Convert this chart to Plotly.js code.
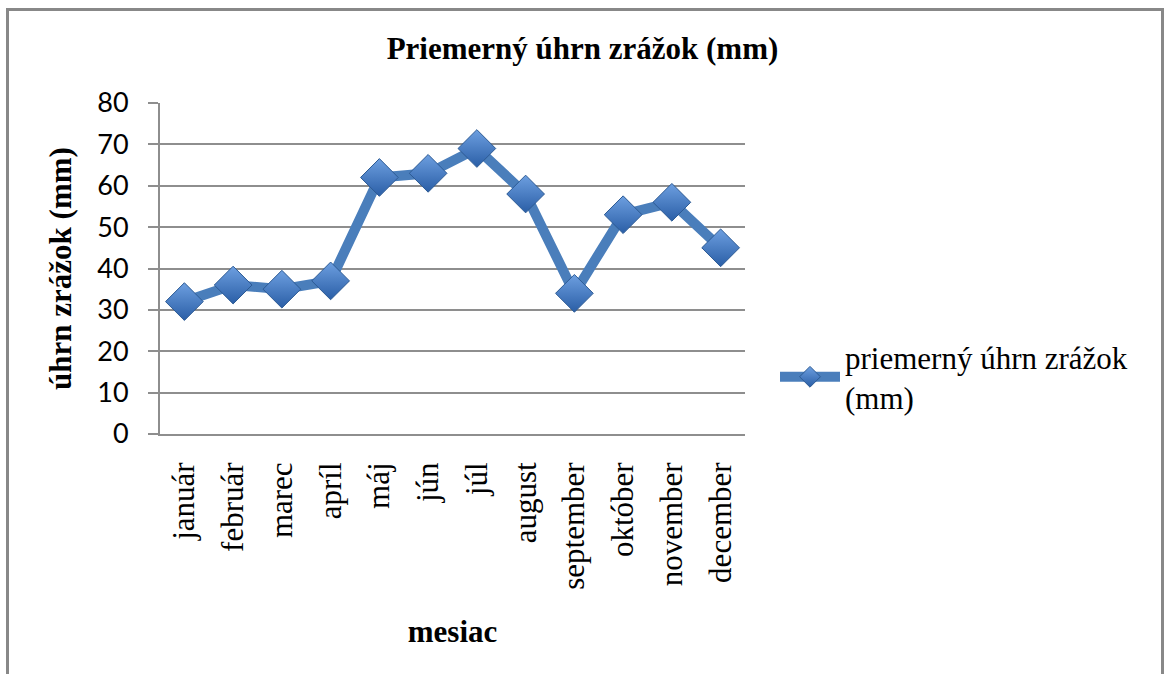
<!DOCTYPE html>
<html>
<head>
<meta charset="utf-8">
<script src="https://cdn.plot.ly/plotly-3.0.1.min.js"></script>
<style>
  html, body { margin: 0; padding: 0; background: #fff; }
  #chart { width: 1165px; height: 674px; }
  #frame {
    position: absolute; left: 6px; top: 8px; width: 1152px; height: 700px;
    border: 3px solid #888; border-bottom: none; pointer-events: none;
  }
</style>
</head>
<body>
<div id="chart"></div>
<div id="frame"></div>
<script>
// Data
const months = ['január', 'február', 'marec', 'apríl', 'máj', 'jún',
                'júl', 'august', 'september', 'október', 'november', 'december'];
const rainfall = [32, 36, 35, 37, 62, 63, 69, 58, 34, 53, 56, 45];
const yTicks = [0, 10, 20, 30, 40, 50, 60, 70, 80];

const serif = 'Liberation Serif, Times New Roman, serif';
const gridGray = '#8e8e8e';

const trace = {
    x: months,
    y: rainfall,
    type: 'scatter',
    mode: 'lines+markers',
    name: 'priemerný úhrn zrážok<br>(mm)',
    line: { color: '#4a7ebb', width: 10 },
    marker: {
        symbol: 'diamond',
        size: 29,
        color: '#6d9fe0',
        gradient: { type: 'vertical', color: '#2a5ea6' },
        line: { color: '#2c5a94', width: 1 }
    }
};

const layout = {
    width: 1165,
    height: 674,
    margin: { l: 160, r: 420, t: 103, b: 240 },
    paper_bgcolor: 'white',
    plot_bgcolor: 'white',
    title: {
        text: '<b>Priemerný úhrn zrážok (mm)</b>',
        font: { family: serif, size: 31, color: '#000' },
        x: 0.5, xref: 'container', xanchor: 'center',
        y: 1 - 48 / 674, yref: 'container', yanchor: 'middle'
    },
    xaxis: {
        type: 'category',
        range: [-0.5, months.length - 0.5],
        tickangle: -90,
        tickfont: { family: serif, size: 31, color: '#000' },
        ticklabelstandoff: 14,
        showline: true, linecolor: gridGray, linewidth: 2,
        showgrid: false, ticks: '',
        title: {
            text: '<b>mesiac</b>',
            font: { family: serif, size: 31, color: '#000' },
            standoff: 32
        }
    },
    yaxis: {
        range: [0, 80],
        tickvals: yTicks,
        tickfont: { family: 'Lato, sans-serif', size: 27, color: '#000' },
        ticks: 'outside', ticklen: 10, tickwidth: 2, tickcolor: gridGray,
        ticklabelstandoff: 14,
        showline: true, linecolor: gridGray, linewidth: 2,
        showgrid: true, gridcolor: gridGray, gridwidth: 2,
        zeroline: false,
        title: {
            text: '<b>úhrn zrážok (mm)</b>',
            font: { family: serif, size: 31, color: '#000' },
            standoff: 16
        }
    },
    showlegend: true,
    legend: {
        xref: 'container', yref: 'container',
        x: 775 / 1165, xanchor: 'left',
        y: 1 - 330 / 674, yanchor: 'top',
        font: { family: serif, size: 31, color: '#000' },
        itemwidth: 60,
        bgcolor: 'rgba(0,0,0,0)'
    }
};

Plotly.newPlot('chart', [trace], layout, { displayModeBar: false, staticPlot: true });
</script>
</body>
</html>
